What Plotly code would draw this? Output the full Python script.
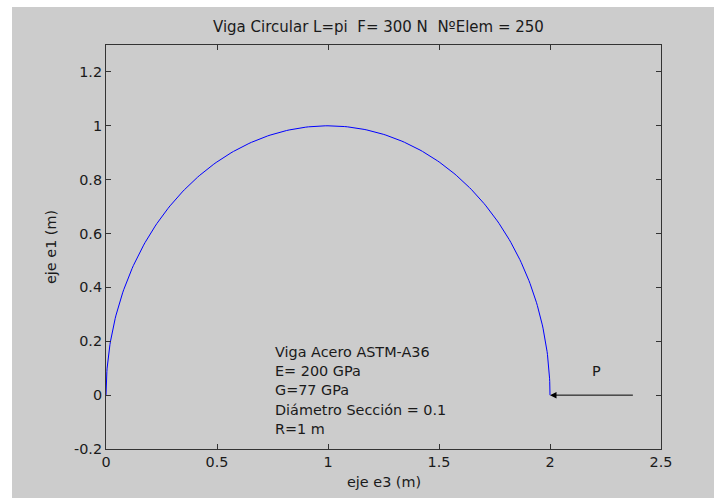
import numpy as np
import plotly.graph_objects as go

# Beam parameters
R = 1.0            # radius of the circular beam (m)
n_elem = 250       # number of finite elements
load_N = 300       # applied force (N)

# Node coordinates of the circular beam (e3 horizontal, e1 vertical)
theta = np.linspace(0.0, np.pi, n_elem + 1)
e3 = R * (1.0 - np.cos(theta))
e1 = R * np.sin(theta)

# Load arrow: tail and tip on the e3 axis
arrow_tail = (2.38, 0.0)
arrow_tip = (2.0, 0.0)

info_lines = [
    "Viga Acero ASTM-A36",
    "E= 200 GPa",
    "G=77 GPa",
    "Diámetro Sección = 0.1",
    "R=1 m",
]

x_ticks = [0, 0.5, 1, 1.5, 2, 2.5]
y_ticks = [-0.2, 0, 0.2, 0.4, 0.6, 0.8, 1, 1.2]

FONT = "DejaVu Sans"
FS = 14.4
INK = "#1a1a1a"

fig = go.Figure()
fig.add_trace(go.Scatter(x=e3, y=e1, mode="lines",
                         line=dict(color="#0000ff", width=1),
                         hoverinfo="skip", showlegend=False))

ann = []
# material / geometry block
spacing = 0.0716
center_y = 0.018
for i, txt in enumerate(info_lines):
    ann.append(dict(x=0.75, y=center_y + (2 - i) * spacing, xref="x", yref="y",
                    text=txt, showarrow=False, xanchor="left", yanchor="middle",
                    font=dict(family=FONT, size=FS, color=INK)))

# load arrow and its label
ann.append(dict(x=arrow_tip[0], y=arrow_tip[1], ax=arrow_tail[0], ay=arrow_tail[1],
                xref="x", yref="y", axref="x", ayref="y", text="",
                showarrow=True, arrowhead=2, arrowsize=1.3, arrowwidth=1,
                arrowcolor="black", standoff=0))
ann.append(dict(x=2.18, y=0.09, xref="x", yref="y", text="P", showarrow=False,
                xanchor="left", yanchor="middle",
                font=dict(family=FONT, size=FS, color=INK)))

# title and axis labels
ann.append(dict(x=0.5, y=1, xref="paper", yref="paper", yshift=18, xshift=-5,
                text=f"Viga Circular L=pi\u00a0\u00a0F= {load_N} N\u00a0\u00a0NºElem = {n_elem}",
                showarrow=False, xanchor="center", yanchor="middle",
                font=dict(family=FONT, size=FS + 0.6, color=INK)))
ann.append(dict(x=0.5, y=0, xref="paper", yref="paper", yshift=-33,
                text="eje e3 (m)", showarrow=False, xanchor="center", yanchor="middle",
                font=dict(family=FONT, size=FS, color=INK)))
ann.append(dict(x=0, y=0.5, xref="paper", yref="paper", xshift=-55,
                text="eje e1 (m)", textangle=-90, showarrow=False,
                xanchor="center", yanchor="middle",
                font=dict(family=FONT, size=FS, color=INK)))

W, H = 714, 498
L, Rm, T, B = 106, 53, 45, 49
pw, ph = W - L - Rm, H - T - B

# grey figure background with a thin white border at top and left
shapes = [dict(type="rect", xref="paper", yref="paper", layer="below",
               x0=(12 - L) / pw, x1=(W - L) / pw + 0.01,
               y0=-(H - T - ph) / ph - 0.01, y1=(H - B - 7) / ph,
               fillcolor="#cccccc", line=dict(width=0))]

axis_common = dict(showgrid=False, zeroline=False, ticks="inside", ticklen=5,
                   tickcolor="#333333", showline=True, linecolor="#333333",
                   linewidth=1, mirror="ticks",
                   tickfont=dict(family=FONT, size=FS, color=INK))

fig.update_layout(
    width=W, height=H,
    margin=dict(l=L, r=Rm, t=T, b=B),
    paper_bgcolor="white", plot_bgcolor="white",
    xaxis=dict(range=[0, 2.5], tickvals=x_ticks, ticktext=[f"{v:g}" for v in x_ticks],
               **axis_common),
    yaxis=dict(range=[-0.2, 1.3], tickvals=y_ticks, ticktext=[f"{v:g}" for v in y_ticks],
               **axis_common),
    annotations=ann, shapes=shapes,
)

fig.write_html("out.html")
